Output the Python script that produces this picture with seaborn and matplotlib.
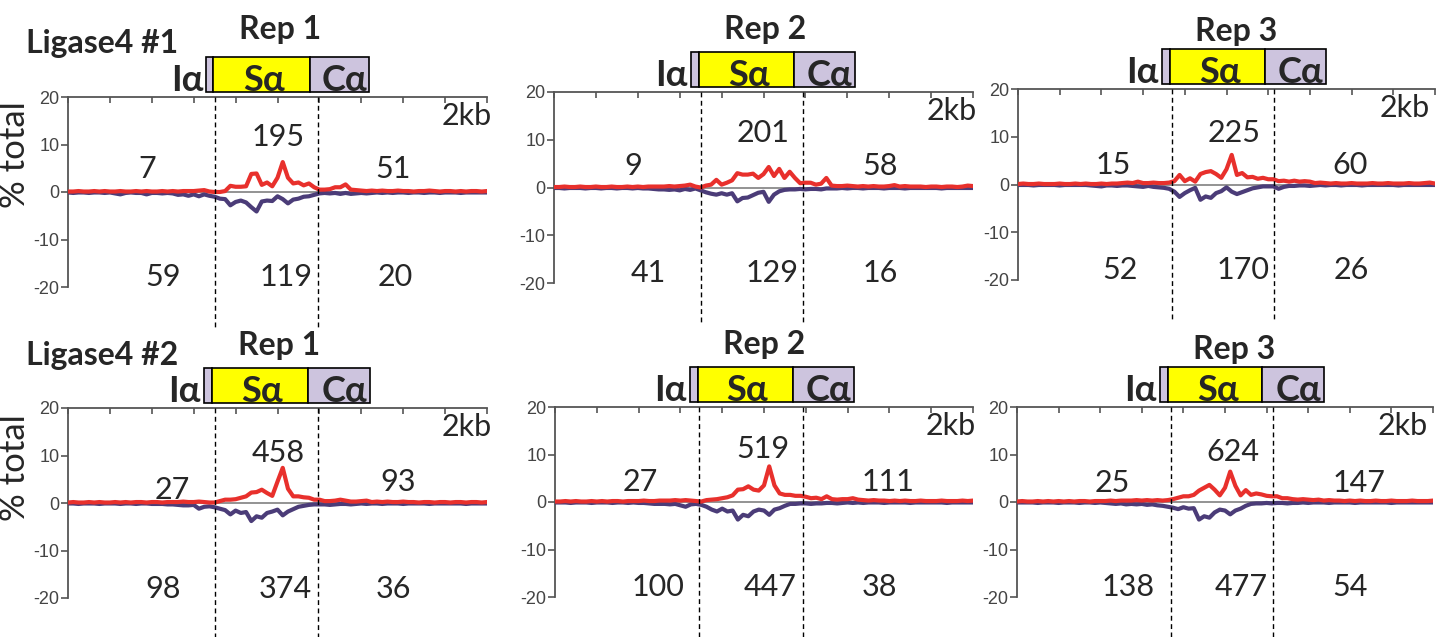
import numpy as np
import matplotlib
matplotlib.use("Agg")
import matplotlib.pyplot as plt
import seaborn as sns
from matplotlib.patches import Rectangle

sns.set_theme(style="white")
plt.rcParams['font.family'] = ['Lato', 'DejaVu Sans']
plt.rcParams['axes.unicode_minus'] = False

# ---------------------------------------------------------------- data
# position along the Iα-Sα-Cα locus, 25 bp bins over 2 kb
position_bp = np.arange(0, 2001, 25)

groups = ["Ligase4 #1", "Ligase4 #2"]
reps = ["Rep 1", "Rep 2", "Rep 3"]

# % of total junctions, forward (red, positive) and reverse (purple, negative)
fwd_l1_r1 = [0.1, 0.1, 0.2, 0.1, 0.1, 0.2, 0.1, 0.2, 0.1, 0.1,
             0.2, 0.1, 0.1, 0.2, 0.1, 0.2, 0.1, 0.1, 0.2, 0.1,
             0.2, 0.1, 0.2, 0.2, 0.2, 0.3, 0.4, 0.1, 0.0, 0.0,
             0.2, 1.3, 1.1, 1.1, 1.2, 3.8, 3.9, 1.5, 2.0, 1.2,
             3.0, 6.3, 3.0, 1.8, 2.0, 1.4, 1.8, 1.0, 0.5, 0.5,
             0.6, 1.0, 1.0, 1.6, 0.5, 0.4, 0.3, 0.2, 0.3, 0.2,
             0.3, 0.2, 0.2, 0.3, 0.2, 0.2, 0.1, 0.2, 0.2, 0.3,
             0.2, 0.1, 0.2, 0.2, 0.1, 0.2, 0.1, 0.2, 0.2, 0.1,
             0.2]
rev_l1_r1 = [-0.1, -0.2, -0.1, -0.1, -0.2, -0.1, -0.1, -0.2, -0.1, -0.3,
             -0.5, -0.2, -0.1, -0.2, -0.2, -0.5, -0.2, -0.2, -0.3, -0.2,
             -0.3, -0.6, -0.5, -0.8, -0.5, -0.9, -0.5, -0.8, -1.0, -1.4,
             -1.5, -2.8, -2.1, -1.8, -2.2, -3.2, -4.1, -2.0, -1.8, -1.9,
             -0.9, -1.5, -2.4, -1.6, -1.4, -1.0, -0.9, -0.6, -0.3, -0.2,
             -0.3, -0.2, -0.4, -0.2, -0.4, -0.3, -0.2, -0.3, -0.2, -0.1,
             -0.2, -0.1, -0.2, -0.1, -0.1, -0.2, -0.1, -0.1, -0.2, -0.1,
             -0.1, -0.2, -0.1, -0.1, -0.1, -0.2, -0.1, -0.1, -0.1, -0.1,
             -0.1]

fwd_l1_r2 = [0.1, 0.1, 0.2, 0.1, 0.1, 0.2, 0.1, 0.1, 0.2, 0.1,
             0.1, 0.2, 0.1, 0.1, 0.2, 0.1, 0.2, 0.1, 0.2, 0.2,
             0.2, 0.2, 0.3, 0.2, 0.3, 0.4, 0.6, 0.2, 0.0, 0.4,
             0.6, 1.6, 0.6, 1.0, 1.5, 3.0, 2.7, 2.7, 2.9, 2.0,
             2.8, 4.3, 2.4, 3.9, 2.0, 3.3, 2.0, 0.9, 1.0, 1.0,
             0.6, 0.8, 2.0, 0.4, 0.3, 0.3, 0.4, 0.3, 0.2, 0.3,
             0.2, 0.3, 0.2, 0.2, 0.3, 0.5, 0.2, 0.3, 0.2, 0.2,
             0.2, 0.1, 0.2, 0.2, 0.1, 0.2, 0.2, 0.1, 0.2, 0.4,
             0.3]
rev_l1_r2 = [-0.1, -0.1, -0.2, -0.1, -0.1, -0.1, -0.2, -0.1, -0.1, -0.2,
             -0.1, -0.1, -0.2, -0.1, -0.1, -0.2, -0.1, -0.2, -0.2, -0.3,
             -0.4, -0.4, -0.5, -0.4, -0.6, -0.3, -0.5, -0.2, -0.6, -1.0,
             -1.3, -1.5, -1.2, -1.5, -1.2, -2.9, -2.2, -2.1, -1.6, -1.1,
             -0.9, -3.0, -1.5, -0.8, -0.5, -0.4, -0.4, -0.3, -0.4, -0.3,
             -0.3, -0.4, -0.2, -0.2, -0.2, -0.1, -0.2, -0.1, -0.1, -0.2,
             -0.1, -0.1, -0.1, -0.2, -0.1, -0.1, -0.1, -0.2, -0.1, -0.1,
             -0.1, -0.1, -0.1, -0.1, -0.2, -0.1, -0.1, -0.1, -0.1, -0.1,
             -0.1]

fwd_l1_r3 = [0.1, 0.2, 0.1, 0.1, 0.2, 0.1, 0.1, 0.1, 0.2, 0.1,
             0.1, 0.2, 0.1, 0.2, 0.1, 0.1, 0.2, 0.1, 0.2, 0.2,
             0.3, 0.4, 0.3, 0.6, 0.3, 0.3, 0.4, 0.3, 0.3, 0.4,
             0.7, 2.0, 0.7, 1.3, 0.6, 2.2, 2.6, 2.8, 2.2, 1.4,
             3.2, 6.2, 2.0, 2.4, 1.5, 1.6, 1.2, 1.4, 1.1, 1.1,
             0.7, 0.8, 0.6, 0.8, 0.6, 0.7, 0.6, 0.3, 0.4, 0.3,
             0.2, 0.3, 0.2, 0.2, 0.3, 0.2, 0.2, 0.2, 0.3, 0.2,
             0.2, 0.3, 0.2, 0.2, 0.2, 0.3, 0.2, 0.2, 0.3, 0.4,
             0.2]
rev_l1_r3 = [-0.1, -0.1, -0.1, -0.2, -0.1, -0.1, -0.1, -0.1, -0.2, -0.1,
             -0.1, -0.1, -0.1, -0.1, -0.2, -0.3, -0.4, -0.2, -0.2, -0.3,
             -0.2, -0.2, -0.3, -0.4, -0.5, -0.3, -0.5, -0.6, -0.7, -0.9,
             -1.5, -2.6, -1.8, -1.2, -0.7, -3.2, -2.5, -2.8, -1.8, -1.4,
             -0.6, -1.5, -2.0, -1.6, -1.2, -0.8, -0.6, -0.4, -0.4, -0.4,
             -0.9, -0.5, -0.3, -0.3, -0.2, -0.2, -0.3, -0.2, -0.1, -0.2,
             -0.1, -0.1, -0.2, -0.1, -0.1, -0.1, -0.2, -0.1, -0.1, -0.1,
             -0.1, -0.1, -0.1, -0.2, -0.1, -0.1, -0.1, -0.1, -0.1, -0.1,
             -0.1]

fwd_l2_r1 = [0.1, 0.2, 0.1, 0.1, 0.2, 0.1, 0.2, 0.1, 0.1, 0.2,
             0.1, 0.2, 0.1, 0.2, 0.2, 0.1, 0.2, 0.2, 0.1, 0.2,
             0.2, 0.2, 0.3, 0.2, 0.2, 0.3, 0.2, 0.1, 0.1, 0.4,
             0.7, 0.7, 0.8, 1.1, 1.4, 2.2, 2.3, 2.8, 2.1, 1.5,
             4.5, 7.4, 3.0, 1.4, 1.4, 1.2, 1.1, 0.7, 0.7, 0.4,
             0.4, 0.5, 0.7, 0.5, 0.3, 0.3, 0.4, 0.5, 0.2, 0.3,
             0.2, 0.3, 0.2, 0.2, 0.3, 0.2, 0.2, 0.1, 0.2, 0.2,
             0.1, 0.2, 0.2, 0.1, 0.2, 0.2, 0.1, 0.2, 0.2, 0.1,
             0.2]
rev_l2_r1 = [-0.1, -0.1, -0.2, -0.1, -0.1, -0.1, -0.2, -0.1, -0.1, -0.1,
             -0.2, -0.1, -0.1, -0.2, -0.1, -0.1, -0.2, -0.2, -0.2, -0.3,
             -0.3, -0.4, -0.5, -0.5, -0.4, -1.2, -0.8, -0.7, -0.9, -1.2,
             -1.5, -2.4, -1.6, -2.1, -1.9, -3.8, -2.8, -3.1, -2.1, -1.8,
             -1.4, -2.6, -1.8, -1.3, -0.8, -0.6, -0.4, -0.3, -0.3, -0.3,
             -0.4, -0.3, -0.2, -0.2, -0.3, -0.2, -0.1, -0.2, -0.1, -0.1,
             -0.2, -0.1, -0.1, -0.1, -0.2, -0.1, -0.1, -0.1, -0.1, -0.2,
             -0.1, -0.1, -0.1, -0.1, -0.1, -0.1, -0.2, -0.1, -0.1, -0.1,
             -0.1]

fwd_l2_r2 = [0.1, 0.1, 0.2, 0.1, 0.2, 0.1, 0.1, 0.2, 0.1, 0.2,
             0.1, 0.2, 0.2, 0.1, 0.2, 0.2, 0.2, 0.3, 0.2, 0.2,
             0.3, 0.3, 0.3, 0.4, 0.3, 0.4, 0.3, 0.2, 0.1, 0.4,
             0.5, 0.6, 0.8, 1.0, 1.4, 2.6, 2.7, 3.3, 2.6, 2.4,
             3.5, 7.5, 3.5, 1.8, 1.5, 1.5, 1.3, 1.3, 1.1, 0.8,
             0.9, 0.6, 1.2, 0.6, 0.5, 0.6, 0.6, 0.8, 0.5, 0.4,
             0.3, 0.4, 0.3, 0.3, 0.2, 0.3, 0.2, 0.3, 0.2, 0.2,
             0.3, 0.2, 0.2, 0.2, 0.3, 0.2, 0.2, 0.2, 0.3, 0.2,
             0.3]
rev_l2_r2 = [-0.1, -0.1, -0.1, -0.2, -0.1, -0.1, -0.1, -0.2, -0.1, -0.1,
             -0.1, -0.2, -0.1, -0.1, -0.2, -0.1, -0.2, -0.2, -0.3, -0.4,
             -0.4, -0.4, -0.5, -0.4, -0.7, -1.0, -0.5, -0.4, -0.6, -1.0,
             -1.6, -2.0, -1.4, -2.0, -1.8, -3.7, -2.7, -3.0, -2.0, -1.6,
             -1.8, -2.7, -1.6, -1.3, -0.8, -0.4, -0.4, -0.3, -0.3, -0.4,
             -0.3, -0.3, -0.2, -0.2, -0.3, -0.2, -0.1, -0.2, -0.1, -0.2,
             -0.1, -0.1, -0.1, -0.2, -0.1, -0.1, -0.1, -0.1, -0.2, -0.1,
             -0.1, -0.1, -0.1, -0.1, -0.1, -0.2, -0.1, -0.1, -0.1, -0.1,
             -0.1]

fwd_l2_r3 = [0.1, 0.2, 0.1, 0.1, 0.2, 0.1, 0.2, 0.1, 0.2, 0.1,
             0.2, 0.1, 0.2, 0.2, 0.1, 0.2, 0.2, 0.2, 0.3, 0.2,
             0.3, 0.3, 0.3, 0.4, 0.3, 0.4, 0.3, 0.4, 0.3, 0.4,
             0.6, 0.9, 1.2, 1.2, 1.5, 2.4, 3.0, 3.6, 2.6, 1.4,
             3.0, 6.4, 3.4, 1.4, 2.5, 1.5, 1.8, 1.6, 1.3, 1.2,
             1.2, 0.8, 0.8, 0.6, 0.5, 0.6, 0.5, 0.4, 0.5, 0.3,
             0.4, 0.3, 0.3, 0.2, 0.3, 0.2, 0.3, 0.2, 0.2, 0.3,
             0.2, 0.2, 0.3, 0.2, 0.2, 0.2, 0.3, 0.2, 0.2, 0.2,
             0.3]
rev_l2_r3 = [-0.1, -0.1, -0.1, -0.1, -0.2, -0.1, -0.1, -0.1, -0.2, -0.1,
             -0.1, -0.1, -0.2, -0.1, -0.1, -0.2, -0.1, -0.2, -0.3, -0.4,
             -0.3, -0.5, -0.4, -0.5, -0.4, -0.6, -0.5, -0.7, -0.8, -1.0,
             -1.2, -1.5, -1.1, -1.4, -1.3, -3.7, -3.0, -3.3, -2.2, -1.6,
             -1.8, -2.6, -1.8, -1.4, -0.8, -0.4, -0.3, -0.3, -0.2, -0.3,
             -0.2, -0.2, -0.3, -0.2, -0.2, -0.1, -0.2, -0.1, -0.1, -0.1,
             -0.2, -0.1, -0.1, -0.1, -0.1, -0.2, -0.1, -0.1, -0.1, -0.1,
             -0.1, -0.1, -0.2, -0.1, -0.1, -0.1, -0.1, -0.1, -0.1, -0.1,
             -0.1]

# junction counts per region (upstream, Sα, downstream)
counts_fwd = [[7, 195, 51], [9, 201, 58], [15, 225, 60],
              [27, 458, 93], [27, 519, 111], [25, 624, 147]]
counts_rev = [[59, 119, 20], [41, 129, 16], [52, 170, 26],
              [98, 374, 36], [100, 447, 38], [138, 477, 54]]

# Iα / Sα / Cα segment edges (bp) for each panel
segment_edges = [[660, 694, 1154, 1438], [654, 692, 1146, 1436], [690, 730, 1184, 1478],
                 [649, 687, 1146, 1442], [646, 684, 1138, 1430], [688, 728, 1180, 1474]]
# Sα region boundaries (dashed lines)
sa_bounds = [[702, 1194], [702, 1188], [738, 1228],
             [702, 1194], [688, 1186], [740, 1230]]

fwd_series = [fwd_l1_r1, fwd_l1_r2, fwd_l1_r3, fwd_l2_r1, fwd_l2_r2, fwd_l2_r3]
rev_series = [rev_l1_r1, rev_l1_r2, rev_l1_r3, rev_l2_r1, rev_l2_r2, rev_l2_r3]

# ---------------------------------------------------------------- layout
W, H = 1437, 637
axes_px = [(68, 97, 487, 287), (554, 92, 973, 283), (1018, 89, 1435, 280),
           (68, 408, 487, 598), (555, 407, 973, 597), (1017, 407, 1433, 597)]
rep_offset_px = [67, 62, 57, 63, 62, 57]
scale_right_px = [492, 977, 1430, 492, 976, 1428]
fwd_label_x = [[378, 1002, 1552], [378, 998, 1556], [456, 1036, 1592],
               [496, 1002, 1576], [406, 996, 1594], [456, 1038, 1644]]
fwd_label_y = [[4.8, 11.5, 4.8], [4.4, 11.4, 4.4], [4.1, 10.7, 4.1],
               [2.7, 10.5, 4.4], [4.2, 11.2, 4.2], [3.9, 10.6, 3.9]]
rev_label_x = [[454, 1040, 1560], [448, 1040, 1556], [490, 1080, 1600],
               [454, 1036, 1552], [494, 1028, 1554], [534, 1076, 1600]]
rev_label_y = -18

RED = "#e8302c"
PURPLE = "#4b3c78"
LAVENDER = "#cdc4de"
YELLOW = "#ffff00"
SPINE = "#555555"

fig = plt.figure(figsize=(W / 100, H / 100), dpi=100, facecolor="white")

for k in range(6):
    l, t, r, b = axes_px[k]
    ax = fig.add_axes([l / W, 1 - b / H, (r - l) / W, (b - t) / H])
    ax.set_facecolor("white")
    ax_h = b - t

    ax.axhline(0, color="#8a8a8a", lw=1.3, zorder=1)
    sns.lineplot(x=position_bp, y=rev_series[k], ax=ax, color=PURPLE,
                 lw=3.0, estimator=None, zorder=3)
    sns.lineplot(x=position_bp, y=fwd_series[k], ax=ax, color=RED,
                 lw=3.0, estimator=None, zorder=4)

    ax.set_xlim(0, 2000)
    ax.set_ylim(-20, 20)
    ax.set_xlabel("")
    ax.set_ylabel("")

    for side in ("right", "bottom"):
        ax.spines[side].set_visible(False)
    for side in ("top", "left"):
        ax.spines[side].set_color(SPINE)
        ax.spines[side].set_linewidth(1.3)

    ax.xaxis.tick_top()
    ax.set_xticks(np.arange(0, 2001, 200))
    ax.tick_params(axis="x", direction="in", length=4, width=1.2, color=SPINE,
                   top=True, bottom=False, labeltop=False, labelbottom=False)
    ax.set_yticks([-20, -10, 0, 10, 20])
    ax.tick_params(axis="y", direction="out", length=5, width=1.2, color=SPINE,
                   labelsize=13, labelcolor="#444444", pad=1, left=True)
    for lab in ax.get_yticklabels():
        lab.set_fontfamily("Liberation Sans")

    xt = ax.get_xaxis_transform()

    # Sα region boundaries
    for xb in sa_bounds[k]:
        ax.plot([xb, xb], [1.0, -0.21], transform=xt, color="black", lw=1.0,
                ls=(0, (3.5, 2.5)), clip_on=False, zorder=5)

    # gene diagram
    e = segment_edges[k]
    y0 = 1 + 5 / ax_h
    bh = 35 / ax_h
    for x0, x1, fc in ((e[0], e[1], LAVENDER), (e[1], e[2], YELLOW), (e[2], e[3], LAVENDER)):
        ax.add_patch(Rectangle((x0, y0), x1 - x0, bh, transform=xt, clip_on=False,
                               facecolor=fc, edgecolor="black", lw=1.2, zorder=6))
    base = y0 + 1 / ax_h
    ax.text(e[0] - 15, base, "Iα", transform=xt, ha="right", va="baseline",
            fontsize=26, fontweight="bold", zorder=7)
    ax.text((e[1] + e[2]) / 2 + 10, base, "Sα", transform=xt, ha="center", va="baseline",
            fontsize=26, fontweight="bold", zorder=7)
    ax.text((e[2] + e[3]) / 2 + 25, base, "Cα", transform=xt, ha="center", va="baseline",
            fontsize=26, fontweight="bold", zorder=7)
    ax.text((e[1] + e[2]) / 2 + 90, 1 + rep_offset_px[k] / ax_h, reps[k % 3],
            transform=xt, ha="center", va="center", fontsize=23, fontweight="bold")

    # scale note
    ax.text((scale_right_px[k] - l) / (r - l), 16, "2kb",
            transform=ax.get_yaxis_transform(), ha="right", va="center", fontsize=22)

    # junction counts
    for j in range(3):
        ax.text(fwd_label_x[k][j], fwd_label_y[k][j], str(counts_fwd[k][j]),
                ha="center", va="center", fontsize=22, zorder=8)
        ax.text(rev_label_x[k][j], rev_label_y, str(counts_rev[k][j]),
                ha="center", va="center", fontsize=22, zorder=8)

# row titles and shared y label
fig.text(26 / W, 1 - 43 / H, groups[0], ha="left", va="center",
         fontsize=23, fontweight="bold")
fig.text(26 / W, 1 - 355 / H, groups[1], ha="left", va="center",
         fontsize=23, fontweight="bold")
for yc in (155, 468):
    fig.text(15 / W, 1 - yc / H, "% total", rotation=90, ha="center",
             va="center", fontsize=25)

fig.savefig("out.png", dpi=100, facecolor="white")
